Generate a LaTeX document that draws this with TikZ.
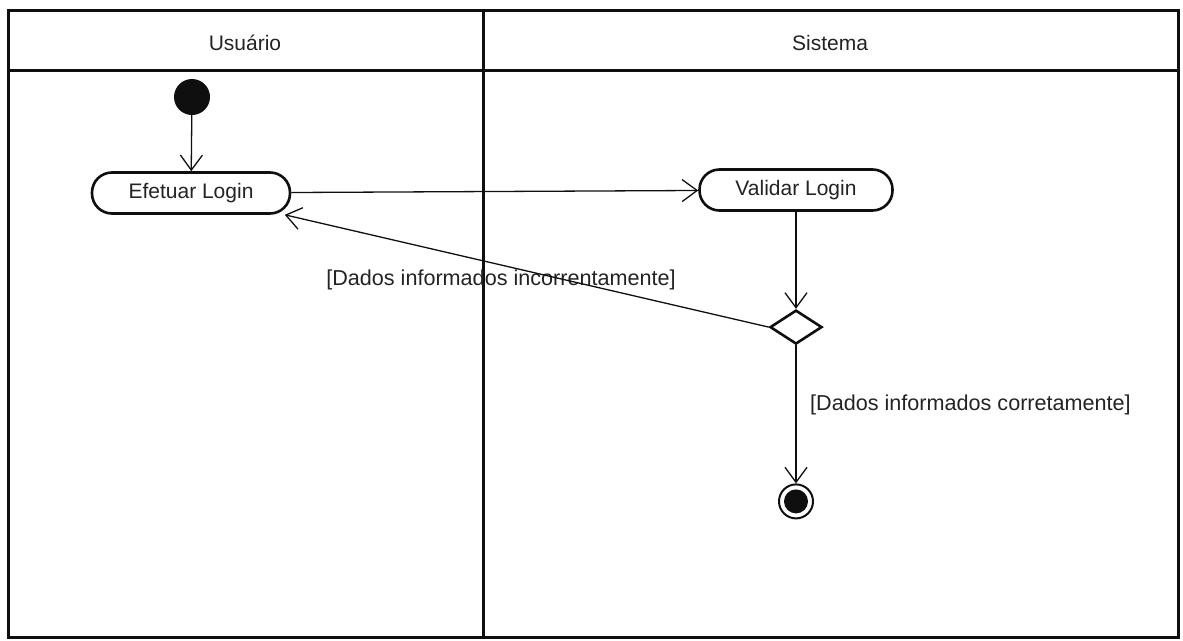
\documentclass[tikz,border=0pt]{standalone}
\usepackage{fontspec}
\setmainfont{Liberation Sans}
\usepackage{xcolor}
\usepackage{tikz}
\usetikzlibrary{arrows.meta,shapes.geometric,positioning}
\definecolor{linhapreta}{RGB}{15,15,15}
\definecolor{textocinza}{RGB}{35,35,35}
\tikzset{
  raia/.style   ={draw=linhapreta, line width=3pt},
  titulo/.style ={font=\fontsize{21}{25}\selectfont, text=textocinza},
  acao/.style   ={draw=linhapreta, line width=2.6pt, rounded corners=20pt,
                  fill=white, minimum width=#1, minimum height=41pt,
                  font=\fontsize{21}{25}\selectfont, text=textocinza,
                  inner sep=0pt},
  acao/.default=195pt,
  inicio/.style ={circle, fill=linhapreta, minimum size=36pt, inner sep=0pt},
  decisao/.style={diamond, draw=linhapreta, line width=2.6pt, fill=white,
                  minimum width=52pt, minimum height=34pt, inner sep=0pt},
  fimnode/.style={circle, draw=linhapreta, line width=2pt, fill=white,
                  minimum size=34pt, inner sep=0pt,
                  path picture={\fill[linhapreta]
                    (path picture bounding box.center) circle (12pt);}},
  guarda/.style ={font=\fontsize{21.6}{26}\selectfont, text=textocinza,
                  inner sep=1pt},
  seta/.style   ={-{Straight Barb[length=15pt,width=22pt]},
                  line width=1.3pt, draw=linhapreta},
}
\begin{document}
\begin{tikzpicture}[x=1pt,y=1pt]
  \useasboundingbox (0,0) rectangle (1183,-640);
  %% raias
  \draw[raia] (8,-10) rectangle (1178,-637);
  \draw[raia] (8,-70) -- (1178,-70);
  \draw[raia] (483,-10) -- (483,-637);
  \node[titulo] (usuario) at (245,-43) {Usuário};
  \node[titulo] (sistema) at (830,-43) {Sistema};
  %% fluxo
  \node[inicio] (ini) at (192,-97) {};
  \node[acao=198pt] (efetuar) at (191,-193) {Efetuar Login};
  \node[acao=193pt] (validar) at (796,-190) {Validar Login};
  \node[decisao, below=97pt of validar] (dec) {};
  \node[fimnode, below=138pt of dec] (fim) {};
  \node[guarda] (incorreto) at (501,-280) {[Dados informados incorrentamente]};
  \node[guarda, anchor=west] (correto) at (809,-405) {[Dados informados corretamente]};
  \draw[seta] (ini) -- (efetuar);
  \draw[seta] (efetuar) -- (validar);
  \draw[seta] (validar) -- (dec);
  \draw[seta] (dec.west) -- (efetuar);
  \draw[seta] (dec) -- (fim);
\end{tikzpicture}
\end{document}
